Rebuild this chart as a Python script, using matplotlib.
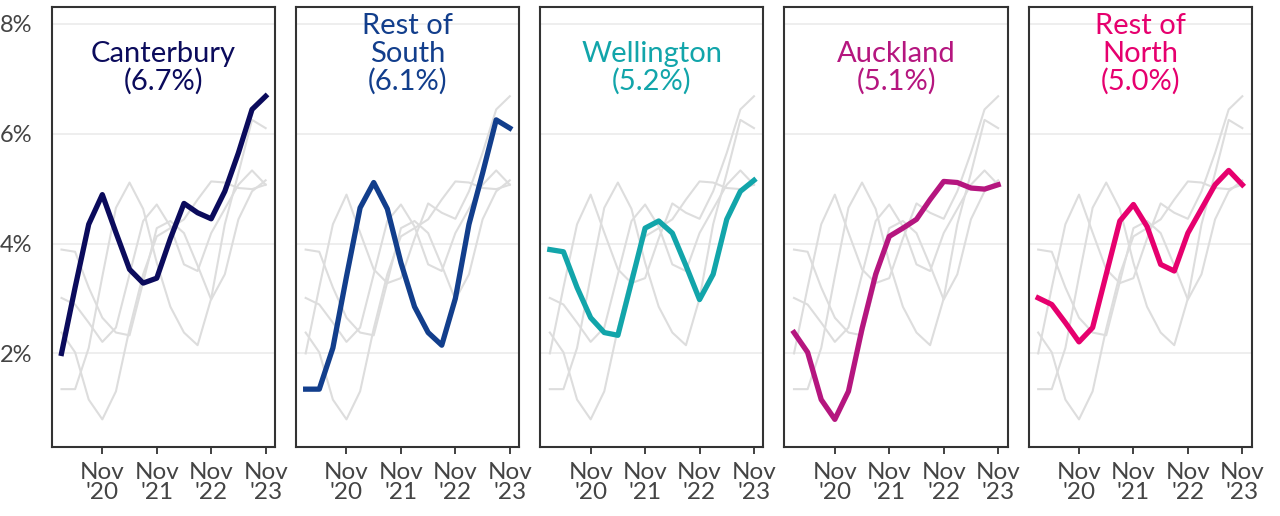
import numpy as np
import matplotlib
matplotlib.use('Agg')
import matplotlib.pyplot as plt

plt.rcParams['font.family'] = ['Lato', 'DejaVu Sans']

# Quarterly series, Feb 2020 .. Nov 2023 (16 quarters)
quarters = np.arange(16)
regions = ['Canterbury', 'Rest of South', 'Wellington', 'Auckland', 'Rest of North']
titles = ['Canterbury\n(6.7%)', 'Rest of\nSouth\n(6.1%)', 'Wellington\n(5.2%)',
          'Auckland\n(5.1%)', 'Rest of\nNorth\n(5.0%)']
colors = ['#0b0b5c', '#123e8c', '#12a5aa', '#b5167f', '#e6006e']

canterbury = [2.0, 3.2, 4.35, 4.89, 4.2, 3.53, 3.28, 3.37, 4.09, 4.73, 4.56, 4.45, 4.95, 5.65, 6.44, 6.68]
rest_south = [1.35, 1.35, 2.1, 3.4, 4.65, 5.11, 4.63, 3.65, 2.85, 2.38, 2.15, 3.0, 4.35, 5.28, 6.25, 6.10]
wellington = [3.89, 3.85, 3.2, 2.65, 2.38, 2.33, 3.3, 4.28, 4.41, 4.19, 3.6, 2.98, 3.44, 4.44, 4.95, 5.15]
auckland = [2.38, 2.02, 1.16, 0.8, 1.31, 2.45, 3.44, 4.13, 4.28, 4.44, 4.8, 5.13, 5.11, 5.01, 4.99, 5.07]
rest_north = [3.01, 2.89, 2.56, 2.21, 2.47, 3.44, 4.41, 4.71, 4.31, 3.62, 3.5, 4.19, 4.63, 5.07, 5.33, 5.07]
series = [canterbury, rest_south, wellington, auckland, rest_north]

tick_pos = [3, 7, 11, 15]
tick_labels = ["Nov\n'20", "Nov\n'21", "Nov\n'22", "Nov\n'23"]
y_ticks = [2, 4, 6, 8]

fig, axes = plt.subplots(1, 5, figsize=(12.8, 5.16), dpi=100, sharey=True)
fig.subplots_adjust(left=0.0406, right=0.978, top=0.986, bottom=0.134, wspace=0.094)

for i, ax in enumerate(axes):
    for j, s in enumerate(series):
        if j != i:
            ax.plot(quarters, s, color='#dddddd', lw=1.5, zorder=2)
    ax.plot(quarters, series[i], color=colors[i], lw=3.8, zorder=3)
    ax.set_xlim(-0.7, 15.7)
    ax.set_ylim(0.3, 8.3)
    ax.set_yticks(y_ticks)
    ax.set_yticklabels([f'{v}%' for v in y_ticks])
    ax.grid(axis='y', color='#ebebeb', lw=1.2, zorder=1)
    ax.set_xticks(tick_pos)
    ax.set_xticklabels(tick_labels, linespacing=0.95)
    ax.tick_params(axis='x', length=5, width=1.3, color='#333333', labelsize=17.5,
                   labelcolor='#444444', pad=6)
    ax.tick_params(axis='y', length=0, labelsize=17, labelcolor='#444444', pad=14)
    for sp in ax.spines.values():
        sp.set_color('#333333')
        sp.set_linewidth(1.5)
    ax.text(0.5, 0.80, titles[i], transform=ax.transAxes, ha='center', va='bottom',
            fontsize=21, color=colors[i], linespacing=1.08, zorder=4)

plt.savefig('out.png', dpi=100, facecolor='white')
